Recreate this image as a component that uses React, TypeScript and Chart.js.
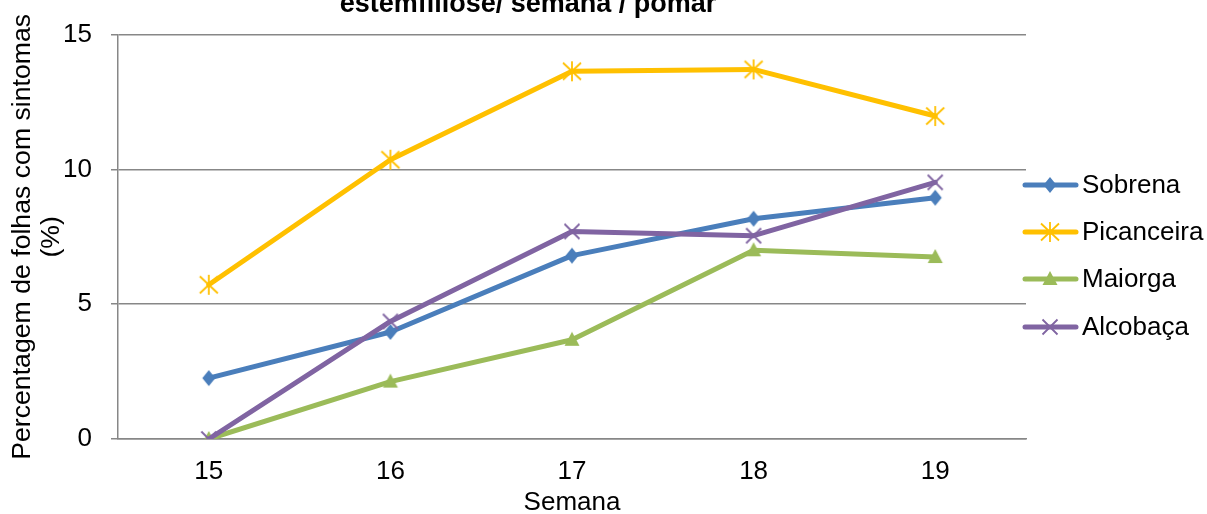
import React, { useEffect, useRef } from "react";
import { Chart, registerables } from "chart.js";

Chart.register(...registerables);

const weeks = ["15", "16", "17", "18", "19"];
const sobrena = [2.26, 3.97, 6.8, 8.17, 8.95];
const picanceira = [5.72, 10.36, 13.64, 13.71, 11.98];
const maiorga = [0, 2.13, 3.68, 7.0, 6.75];
const alcobaca = [0, 4.36, 7.7, 7.54, 9.52];
const seriesNames = ["Sobrena", "Picanceira", "Maiorga", "Alcobaça"];
const seriesColors = ["#4a7ebb", "#ffc000", "#9bbb59", "#8064a2"];
const markerKinds = ["diamond", "star", "triangle", "x"];
const titleText = "estemfiliose/ semana / pomar";
const yTitle = ["Percentagem de folhas com sintomas", "(%)"];
const xTitle = "Semana";

const FONT = "'Liberation Sans', Arial, sans-serif";
const GRID = "#878787";

function drawMarker(ctx: CanvasRenderingContext2D, kind: string, color: string, cx: number, cy: number) {
  ctx.save();
  ctx.fillStyle = color;
  ctx.strokeStyle = color;
  ctx.lineWidth = 1.8;
  ctx.lineCap = "butt";
  if (kind === "diamond") {
    ctx.beginPath();
    ctx.moveTo(cx, cy - 8);
    ctx.lineTo(cx + 6.5, cy);
    ctx.lineTo(cx, cy + 8);
    ctx.lineTo(cx - 6.5, cy);
    ctx.closePath();
    ctx.fill();
  } else if (kind === "triangle") {
    ctx.beginPath();
    ctx.moveTo(cx, cy - 8);
    ctx.lineTo(cx + 7.5, cy + 6);
    ctx.lineTo(cx - 7.5, cy + 6);
    ctx.closePath();
    ctx.fill();
  } else if (kind === "star") {
    ctx.beginPath();
    ctx.moveTo(cx, cy - 10);
    ctx.lineTo(cx, cy + 10);
    ctx.moveTo(cx - 9, cy - 8.5);
    ctx.lineTo(cx + 9, cy + 8.5);
    ctx.moveTo(cx + 9, cy - 8.5);
    ctx.lineTo(cx - 9, cy + 8.5);
    ctx.stroke();
  } else {
    ctx.beginPath();
    ctx.moveTo(cx - 7.5, cy - 7.5);
    ctx.lineTo(cx + 7.5, cy + 7.5);
    ctx.moveTo(cx + 7.5, cy - 7.5);
    ctx.lineTo(cx - 7.5, cy + 7.5);
    ctx.stroke();
  }
  ctx.restore();
}

function makeMarkerCanvas(kind: string, color: string) {
  const c = document.createElement("canvas");
  c.width = 26;
  c.height = 26;
  const ctx = c.getContext("2d")!;
  drawMarker(ctx, kind, color, 13, 13);
  return c;
}

const titlePlugin = {
  id: "clippedTitle",
  afterDraw(chart: any) {
    const ctx = chart.ctx;
    ctx.save();
    ctx.font = `bold 27px ${FONT}`;
    ctx.fillStyle = "#000";
    ctx.textAlign = "center";
    ctx.textBaseline = "alphabetic";
    ctx.fillText(titleText, 528, 11.5);
    ctx.restore();
  },
};

const legendPlugin = {
  id: "sideLegend",
  afterDraw(chart: any) {
    const ctx = chart.ctx;
    const ys = [185, 232, 279, 327];
    chart.data.datasets.forEach((ds: any, i: number) => {
      const y = ys[i];
      ctx.save();
      ctx.strokeStyle = ds.borderColor;
      ctx.lineWidth = 5;
      ctx.lineCap = "round";
      ctx.beginPath();
      ctx.moveTo(1025, y);
      ctx.lineTo(1076, y);
      ctx.stroke();
      drawMarker(ctx, markerKinds[i], ds.borderColor, 1050, y);
      ctx.font = `26px ${FONT}`;
      ctx.fillStyle = "#000";
      ctx.textAlign = "left";
      ctx.textBaseline = "middle";
      ctx.fillText(ds.label, 1082, y + 1);
      ctx.restore();
    });
  },
};

export default function App() {
  const ref = useRef<HTMLCanvasElement>(null);
  useEffect(() => {
    const values = [sobrena, picanceira, maiorga, alcobaca];
    const datasets = values.map((data, i) => {
      const marker = makeMarkerCanvas(markerKinds[i], seriesColors[i]);
      return {
        label: seriesNames[i],
        data,
        borderColor: seriesColors[i],
        backgroundColor: seriesColors[i],
        borderWidth: 5,
        borderCapStyle: "round" as const,
        borderJoinStyle: "round" as const,
        pointStyle: marker,
        pointRadius: 6,
        tension: 0,
        order: 3 - i,
      };
    });
    const chart = new Chart(ref.current!, {
      type: "line",
      data: { labels: weeks, datasets },
      options: {
        responsive: false,
        animation: false,
        layout: { padding: { top: 34, right: 181, bottom: 0, left: 0 } },
        plugins: {
          legend: { display: false },
          title: { display: false },
          tooltip: { enabled: false },
        },
        scales: {
          x: {
            offset: true,
            afterFit(scale: any) {
              scale.height = 75;
            },
            grid: { display: true, drawOnChartArea: false, drawTicks: false },
            border: { display: true, color: GRID, width: 1.5 },
            ticks: {
              color: "#000",
              padding: 17,
              font: { family: FONT, size: 26, lineHeight: 1.2 },
            },
            title: {
              display: true,
              text: xTitle,
              color: "#000",
              font: { family: FONT, size: 26, lineHeight: 0.85 },
              padding: { top: 0, bottom: 0 },
            },
          },
          y: {
            min: 0,
            max: 15,
            afterFit(scale: any) {
              scale.width = 118;
            },
            ticks: {
              stepSize: 5,
              color: "#000",
              padding: 19,
              font: { family: FONT, size: 26, lineHeight: 1.2 },
            },
            grid: { color: GRID, lineWidth: 1.5, tickLength: 7, drawTicks: true },
            border: { display: true, color: GRID, width: 1.5 },
            title: {
              display: true,
              text: yTitle,
              color: "#000",
              font: { family: FONT, size: 26.67, lineHeight: 1.09 },
              padding: { top: 8.5, bottom: 0 },
            },
          },
        },
      },
      plugins: [titlePlugin, legendPlugin],
    });
    return () => chart.destroy();
  }, []);
  return (
    <canvas
      ref={ref}
      width={1207}
      height={514}
      style={{ position: "absolute", left: 0, top: 0, display: "block" }}
    />
  );
}
